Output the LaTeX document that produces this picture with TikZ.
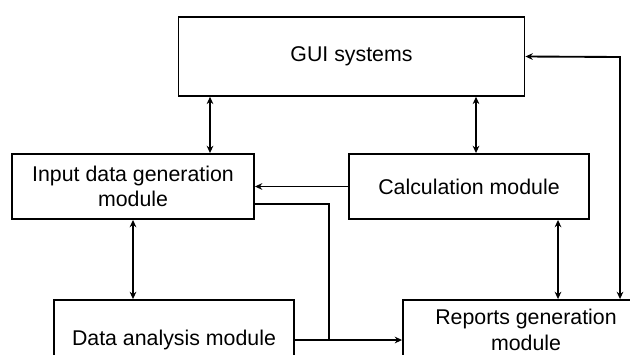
\documentclass[tikz,border=0pt]{standalone}
\usepackage{fontspec}
\setmainfont{Liberation Sans}
\usetikzlibrary{positioning,calc,arrows.meta}

\begin{document}
\begin{tikzpicture}[
				x=0.75pt, y=-0.75pt,
				module/.style={rectangle, draw, line width=1.4pt, inner sep=0pt, align=center, font=\fontsize{16}{19.2}\selectfont},
				link/.style={line width=1.4pt, -{Stealth[length=5.5pt,width=5pt]}},
				biglink/.style={line width=1.4pt, {Stealth[length=5.5pt,width=5pt]}-{Stealth[length=5.5pt,width=5pt]}}
				]
				\useasboundingbox (0,0) rectangle (630,354);
				\node[module, minimum width=259.5pt, minimum height=59pt] (gui) at (351.5,56.5) {GUI systems};
				\node[module, minimum width=181.5pt, minimum height=48.75pt] (input) at (133,186.5) {Input data generation\\module};
				\node[module, minimum width=180pt, minimum height=48.75pt] (calc) at (469,186.5) {Calculation module};
				\node[module, minimum width=180pt, minimum height=60pt] (analysis) at (174,340) {Data analysis module};
				\node[module, minimum width=184.5pt, minimum height=45pt] (reports) at (526,330) {Reports generation\\module};
				\coordinate (corner) at (620,57);
				\coordinate (joint) at (329,340);
				
				\draw[biglink] (gui.south -| 210,0) -- (input.north -| 210,0);
				\draw[biglink] (gui.south -| 476,0) -- (calc.north -| 476,0);
				\draw[biglink] (input.south) -- (analysis.north -| input.south);
				\draw[biglink] (calc.south -| 558,0) -- (reports.north -| 558,0);
				\draw[biglink] (gui.east) -- (corner) -- (reports.north -| corner);
				\draw[link] (calc.west) -- (input.east);
				\draw[line width=1.4pt] ($(input.east)+(0,17.5)$) -| (joint);
				\draw[link] (analysis.east |- joint) -- (reports.west |- joint);
\end{tikzpicture}
\end{document}
